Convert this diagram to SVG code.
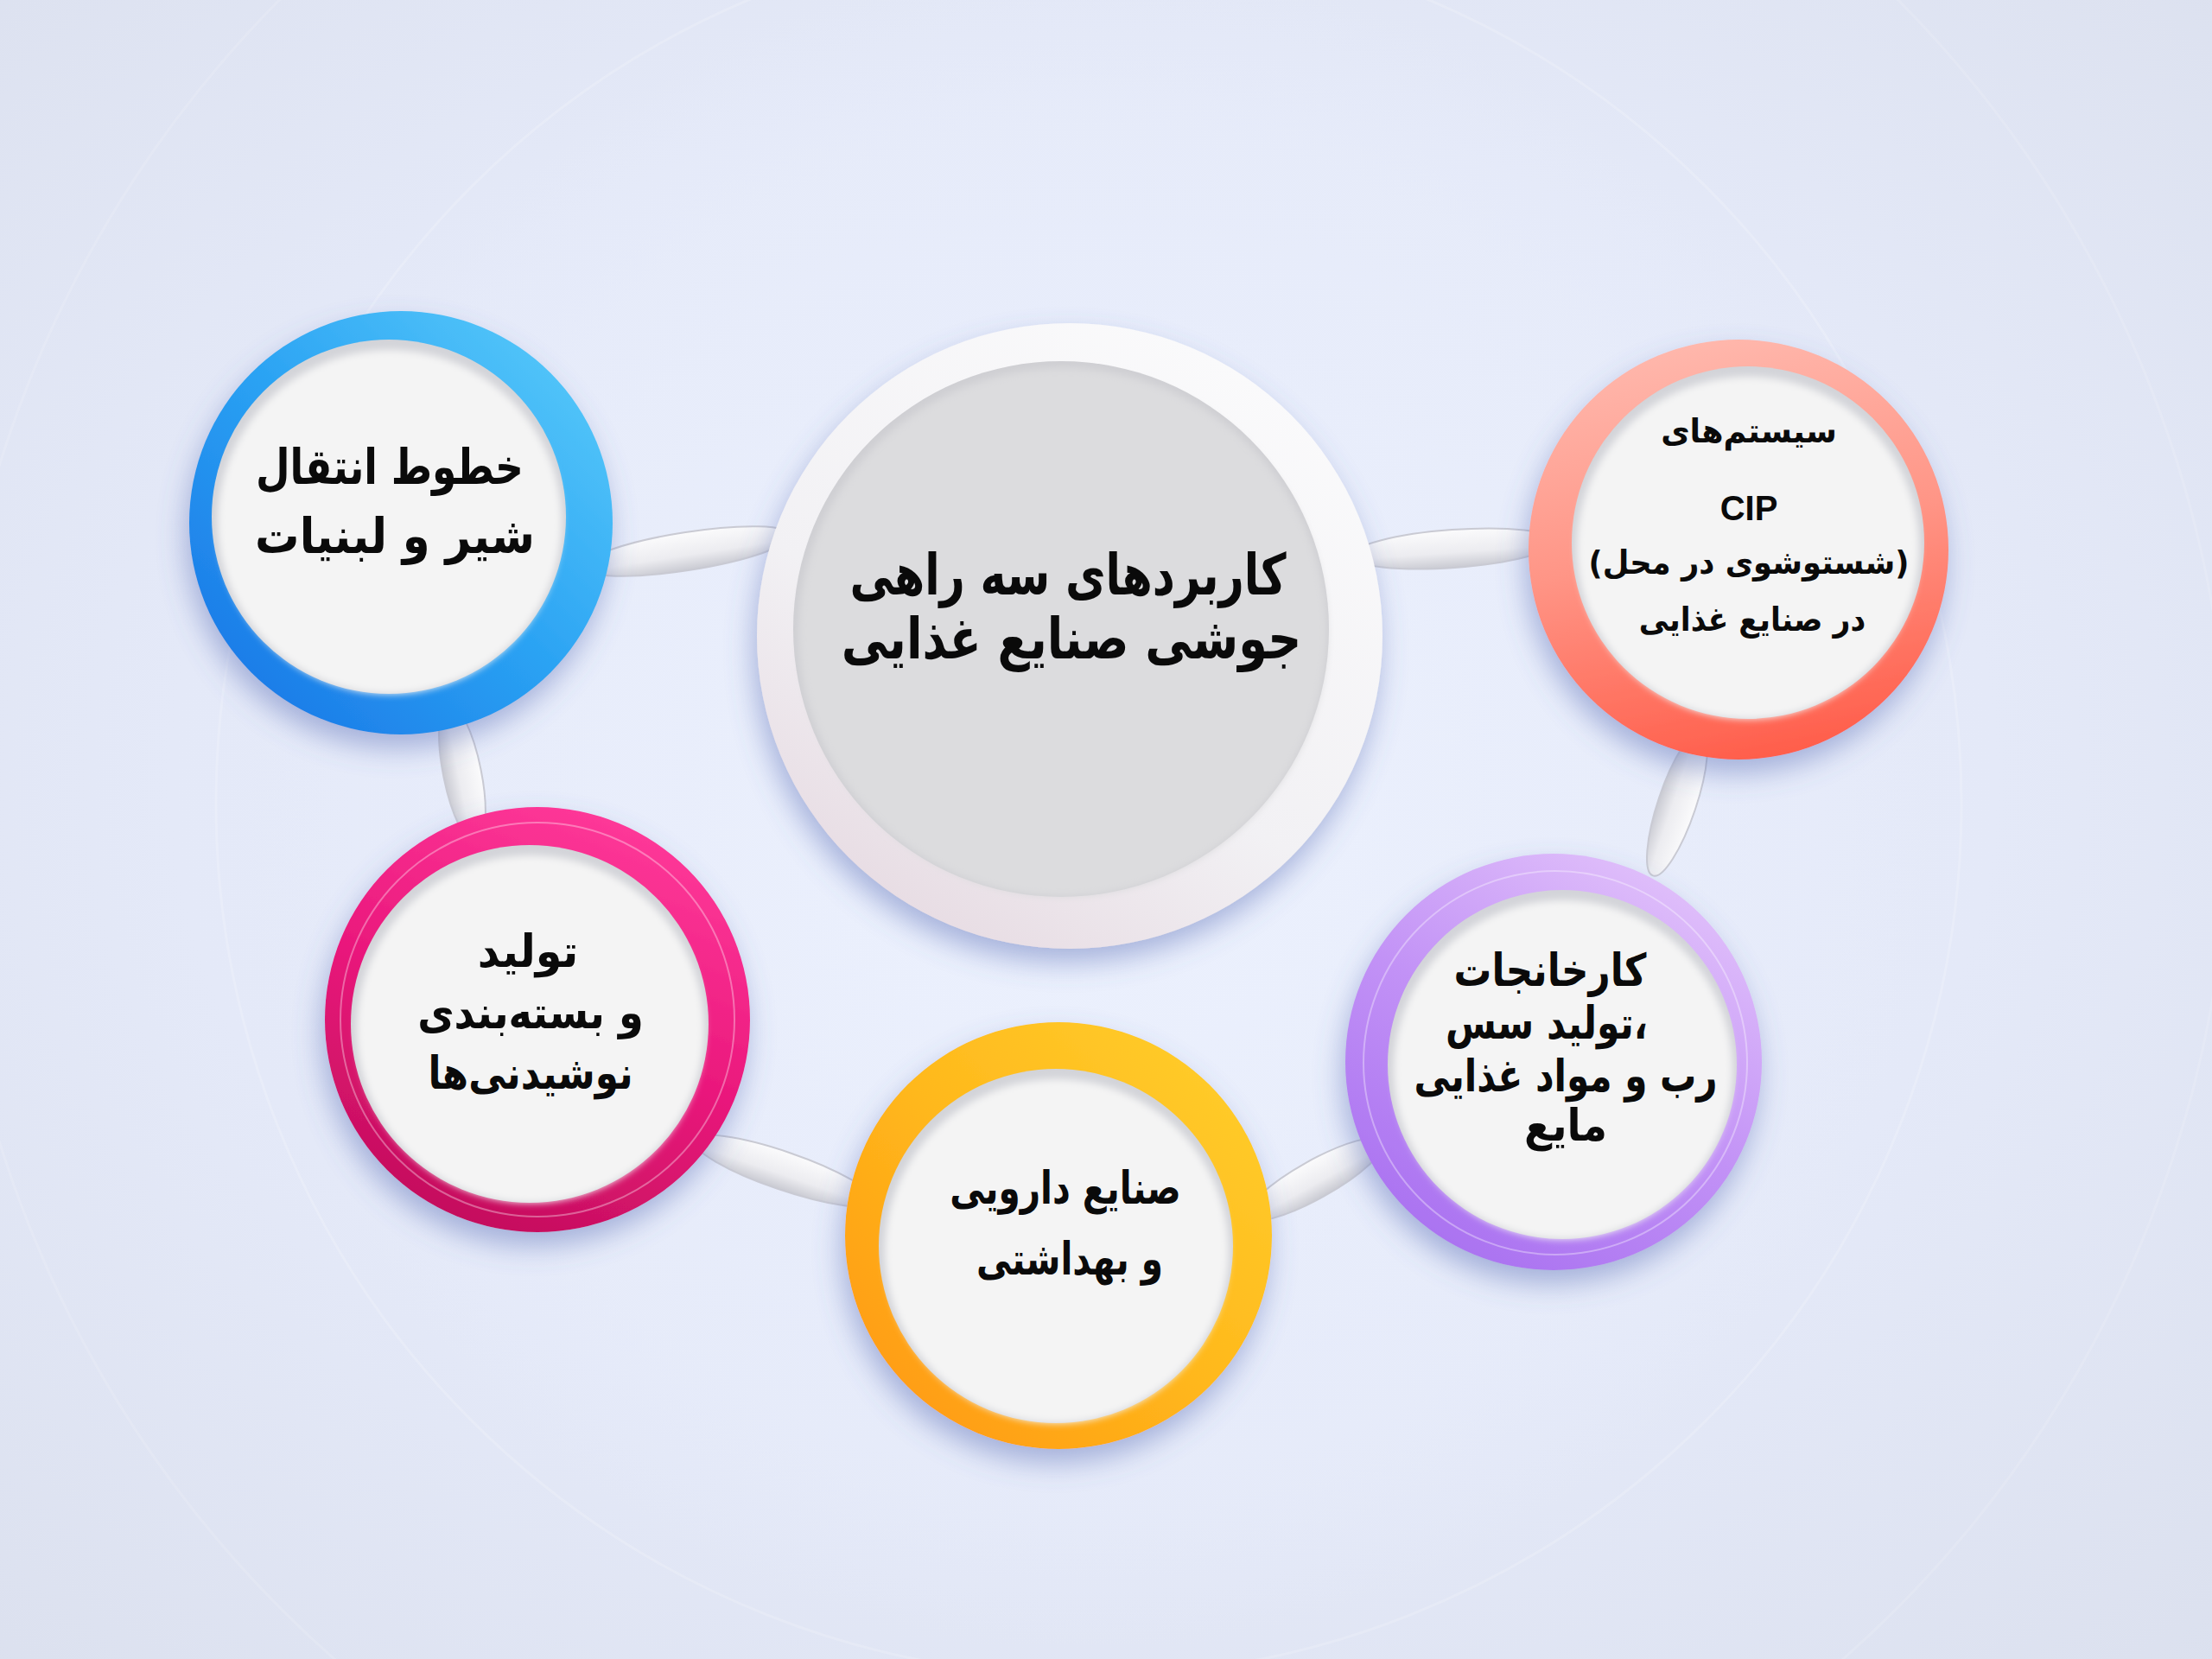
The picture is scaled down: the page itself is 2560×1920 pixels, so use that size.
<svg xmlns="http://www.w3.org/2000/svg" width="2560" height="1920" viewBox="0 0 2560 1920">
<defs>
<style>
.t{font-family:"DejaVu Sans","Noto Sans",sans-serif;font-weight:bold;fill:#0a0a0a;text-anchor:middle;direction:rtl}
.lat{font-family:"Liberation Sans",Arial,sans-serif;font-weight:bold;fill:#0a0a0a;text-anchor:middle}
.conn{fill:url(#gConn);stroke:#c9cad3;stroke-width:2}
.inShadow{fill:#d3d4d9}
.inWhite{fill:#f4f4f4;filter:url(#soft)}
</style>
<radialGradient id="gBg" cx="0.49" cy="0.47" r="0.75">
<stop offset="0" stop-color="#e9eefc"/>
<stop offset="0.55" stop-color="#e4e9f8"/>
<stop offset="1" stop-color="#dbe0ee"/>
</radialGradient>
<radialGradient id="gGlow" cx="0.5" cy="0.5" r="0.5">
<stop offset="0" stop-color="#edf2fe" stop-opacity="0.9"/>
<stop offset="0.8" stop-color="#e8edfb" stop-opacity="0.5"/>
<stop offset="1" stop-color="#e8edfb" stop-opacity="0"/>
</radialGradient>
<linearGradient id="gConn" x1="0" y1="0" x2="0" y2="1">
<stop offset="0" stop-color="#fbfbfc"/>
<stop offset="0.6" stop-color="#ececf0"/>
<stop offset="1" stop-color="#c9cad2"/>
</linearGradient>
<linearGradient id="gBlue" x1="1" y1="0" x2="0" y2="1">
<stop offset="0" stop-color="#5fd0fb"/>
<stop offset="0.5" stop-color="#2aa2f3"/>
<stop offset="1" stop-color="#176fe4"/>
</linearGradient>
<linearGradient id="gSalmon" x1="0.3" y1="0" x2="0.5" y2="1">
<stop offset="0" stop-color="#ffb9ae"/>
<stop offset="0.5" stop-color="#ff9586"/>
<stop offset="1" stop-color="#ff5f4c"/>
</linearGradient>
<linearGradient id="gPink" x1="0.7" y1="0" x2="0.3" y2="1">
<stop offset="0" stop-color="#ff3a9a"/>
<stop offset="0.5" stop-color="#ea187c"/>
<stop offset="1" stop-color="#c20e5b"/>
</linearGradient>
<linearGradient id="gOrange" x1="1" y1="0" x2="0" y2="1">
<stop offset="0" stop-color="#ffd12e"/>
<stop offset="0.5" stop-color="#ffb81c"/>
<stop offset="1" stop-color="#ff9410"/>
</linearGradient>
<linearGradient id="gPurple" x1="0.8" y1="0" x2="0.2" y2="1">
<stop offset="0" stop-color="#e3c4fb"/>
<stop offset="0.5" stop-color="#c292f6"/>
<stop offset="1" stop-color="#a76ef0"/>
</linearGradient>
<linearGradient id="gCenter" x1="0.8" y1="0" x2="0.2" y2="1">
<stop offset="0" stop-color="#fbfbfc"/>
<stop offset="0.6" stop-color="#f2f1f4"/>
<stop offset="1" stop-color="#e6d9e1"/>
</linearGradient>
<filter id="shadow" x="-30%" y="-30%" width="160%" height="170%">
<feDropShadow dx="-4" dy="16" stdDeviation="16" flood-color="#5569b3" flood-opacity="0.45"/>
</filter>
<filter id="soft" x="-10%" y="-10%" width="120%" height="120%">
<feGaussianBlur stdDeviation="4"/>
</filter>
</defs>

<rect width="2560" height="1920" fill="url(#gBg)"/>
<circle cx="1260" cy="930" r="980" fill="url(#gGlow)"/>
<circle cx="1260" cy="930" r="1010" fill="none" stroke="#ffffff" stroke-opacity="0.18" stroke-width="3"/>
<circle cx="1260" cy="930" r="1320" fill="none" stroke="#ffffff" stroke-opacity="0.14" stroke-width="3"/>

<g id="connectors">
<ellipse class="conn" cx="795" cy="638" rx="122" ry="22" transform="rotate(-8.9 795 638)"/>
<ellipse class="conn" cx="1682" cy="635" rx="118" ry="22" transform="rotate(-4.1 1682 635)"/>
<ellipse class="conn" cx="535" cy="895" rx="82" ry="22" transform="rotate(78.7 535 895)"/>
<ellipse class="conn" cx="907" cy="1355" rx="110" ry="22" transform="rotate(18.9 907 1355)"/>
<ellipse class="conn" cx="1522" cy="1365" rx="90" ry="22" transform="rotate(-29.2 1522 1365)"/>
<ellipse class="conn" cx="1941" cy="930" rx="88" ry="22" transform="rotate(108.6 1941 930)"/>
</g>

<g id="node-center">
<circle cx="1238" cy="736" r="362" fill="url(#gCenter)" filter="url(#shadow)"/>
<circle cx="1228" cy="728" r="310" fill="#cfcfd3"/>
<circle cx="1230" cy="732" r="306" fill="#dcdcde" filter="url(#soft)"/>
<text class="t" transform="translate(1236 688) scale(0.77 1)" font-size="66">کاربردهای سه راهی</text>
<text class="t" transform="translate(1240 762) scale(0.82 1)" font-size="66">جوشی صنایع غذایی</text>
</g>

<g id="node-blue">
<circle cx="464" cy="605" r="245" fill="url(#gBlue)" filter="url(#shadow)"/>
<circle class="inShadow" cx="450" cy="598" r="205"/>
<circle class="inWhite" cx="451" cy="604" r="199"/>
<text class="t" transform="translate(451 560) scale(0.80 1)" font-size="57">خطوط انتقال</text>
<text class="t" transform="translate(457 640) scale(0.90 1)" font-size="57">شیر و لبنیات</text>
</g>

<g id="node-salmon">
<circle cx="2012" cy="636" r="243" fill="url(#gSalmon)" filter="url(#shadow)"/>
<circle class="inShadow" cx="2023" cy="628" r="204"/>
<circle class="inWhite" cx="2023" cy="634" r="198"/>
<text class="t" transform="translate(2024 512) scale(0.96 1)" font-size="38">سیستم‌های</text>
<text class="lat" x="2024" y="602" font-size="40">CIP</text>
<text class="t" transform="translate(2024 664) scale(0.93 1)" font-size="38">(شستوشوی در محل)</text>
<text class="t" transform="translate(2028 730) scale(0.91 1)" font-size="38">در صنایع غذایی</text>
</g>

<g id="node-pink">
<circle cx="622" cy="1180" r="246" fill="url(#gPink)" filter="url(#shadow)"/>
<circle cx="622" cy="1180" r="228" fill="none" stroke="#ffffff" stroke-opacity="0.35" stroke-width="2"/>
<circle class="inShadow" cx="613" cy="1185" r="207"/>
<circle class="inWhite" cx="614" cy="1191" r="201"/>
<text class="t" transform="translate(611 1119) scale(0.95 1)" font-size="52">تولید</text>
<text class="t" transform="translate(614 1190) scale(0.89 1)" font-size="52">و بسته‌بندی</text>
<text class="t" transform="translate(614 1260) scale(0.84 1)" font-size="52">نوشیدنی‌ها</text>
</g>

<g id="node-orange">
<circle cx="1225" cy="1430" r="247" fill="url(#gOrange)" filter="url(#shadow)"/>
<circle class="inShadow" cx="1222" cy="1442" r="205"/>
<circle class="inWhite" cx="1223" cy="1448" r="199"/>
<text class="t" transform="translate(1233 1393) scale(0.78 1)" font-size="52">صنایع دارویی</text>
<text class="t" transform="translate(1238 1475) scale(0.78 1)" font-size="52">و بهداشتی</text>
</g>

<g id="node-purple">
<circle cx="1798" cy="1229" r="241" fill="url(#gPurple)" filter="url(#shadow)"/>
<circle cx="1800" cy="1230" r="222" fill="none" stroke="#ffffff" stroke-opacity="0.35" stroke-width="2"/>
<circle class="inShadow" cx="1808" cy="1232" r="202"/>
<circle class="inWhite" cx="1809" cy="1238" r="196"/>
<text class="t" transform="translate(1794 1141) scale(0.84 1)" font-size="52">کارخانجات</text>
<text class="t" transform="translate(1790 1202) scale(0.82 1)" font-size="52">،تولید سس</text>
<text class="t" transform="translate(1812 1263) scale(0.81 1)" font-size="52">رب و مواد غذایی</text>
<text class="t" transform="translate(1812 1320) scale(0.90 1)" font-size="52">مایع</text>
</g>
</svg>
